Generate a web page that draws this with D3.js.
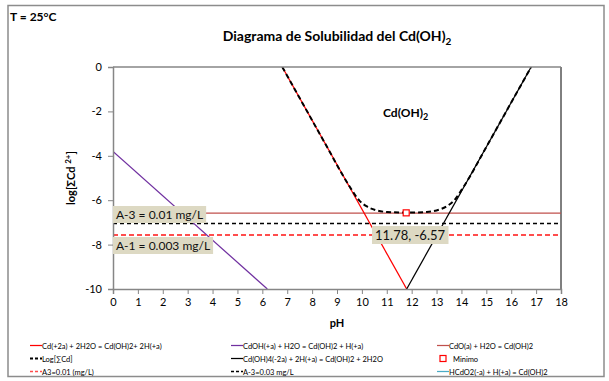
<!DOCTYPE html>
<html><head><meta charset="utf-8">
<script src="https://cdn.jsdelivr.net/npm/d3@7"></script>
<style>body{margin:0;background:#fff}svg{display:block;font-family:Lato,"Open Sans",sans-serif}</style>
</head><body><svg id="c" width="609" height="381"></svg>
<script>
// ---- data ----
const xTicks = [0,1,2,3,4,5,6,7,8,9,10,11,12,13,14,15,16,17,18];
const yTicks = [0,-2,-4,-6,-8,-10];
const cd2Line   = [[6.8,0],[11.8,-10]];          // Cd(+2a) + 2H2O = Cd(OH)2 + 2H(+a)
const cdohLine  = [[0,-3.8],[6.2,-10]];          // CdOH(+a) + H2O = Cd(OH)2 + H(+a)
const cdoLine   = [[0,-6.58],[18,-6.58]];        // CdO(a) + H2O = Cd(OH)2
const cdoh4Line = [[11.8,-10],[16.8,0]];         // Cd(OH)4(-2a) + 2H(+a) = Cd(OH)2 + 2H2O
const hcdo2Line = [];                            // HCdO2(-a) + H(+a) = Cd(OH)2 (off scale)
const totalCd   = [[6.8,0],[7.5,-1.4],[8.5,-3.4],[9.5,-5.37],[9.9,-6.02],[10.2,-6.28],[10.6,-6.46],[11.0,-6.53],[11.78,-6.56],[12.6,-6.53],[13.0,-6.46],[13.4,-6.28],[13.7,-6.02],[14.1,-5.37],[15.1,-3.4],[16.1,-1.4],[16.8,0]];
const a3Line    = [[0,-7.57],[18,-7.57]];        // A3=0.01 (mg/L)
const am3Line   = [[0,-7.05],[18,-7.05]];        // A-3=0.03 mg/L
const minimo    = [[11.78,-6.57]];
const labelA3 = "A-3 = 0.01 mg/L", labelA1 = "A-1 = 0.003 mg/L";

const svg = d3.select("#c");
const L=113, R=561, T=67, B=289;
const x = d3.scaleLinear().domain([0,18]).range([L,R]);
const y = d3.scaleLinear().domain([-10,0]).range([B,T]);

// outer frame
svg.append("rect").attr("x",8).attr("y",5.5).attr("width",596).attr("height",371).attr("fill","#fff").attr("stroke","#8c8c8c").attr("stroke-width",1.5);

svg.append("text").attr("x",10).attr("y",21).attr("font-size",12).attr("font-weight","bold").text("T = 25°C");
const tt = svg.append("text").attr("x",(L+R)/2).attr("y",41).attr("text-anchor","middle").attr("font-size",14).attr("font-weight","bold");
tt.append("tspan").text("Diagrama de Solubilidad del Cd(OH)");
tt.append("tspan").attr("font-size",10).attr("dy",4).text("2");

// plot border
svg.append("line").attr("x1",R).attr("x2",R).attr("y1",T).attr("y2",B).attr("stroke","#000").attr("stroke-width",1);

const clip = svg.append("clipPath").attr("id","pc").append("rect").attr("x",L).attr("y",T).attr("width",R-L).attr("height",B-T);
const g = svg.append("g").attr("clip-path","url(#pc)");
const line = d3.line().x(d=>x(d[0])).y(d=>y(d[1]));

g.append("path").attr("d",line(am3Line)).attr("fill","none").attr("stroke","#000").attr("stroke-width",1.5).attr("stroke-dasharray","4,3");
g.append("path").attr("d",line(a3Line)).attr("fill","none").attr("stroke","#ff4d4d").attr("stroke-width",2).attr("stroke-dasharray","5,3");
g.append("path").attr("d",line(cdoLine)).attr("fill","none").attr("stroke","#c0504d").attr("stroke-width",1.25);
g.append("path").attr("d",line(cdohLine)).attr("fill","none").attr("stroke","#7030a0").attr("stroke-width",1.25);
g.append("path").attr("d",line(cd2Line)).attr("fill","none").attr("stroke","#ff0000").attr("stroke-width",1.25);
g.append("path").attr("d",line(cdoh4Line)).attr("fill","none").attr("stroke","#000").attr("stroke-width",1.25);
if(hcdo2Line.length) g.append("path").attr("d",line(hcdo2Line)).attr("fill","none").attr("stroke","#4bacc6");
g.append("path").attr("d",line.curve(d3.curveMonotoneX)(totalCd)).attr("fill","none").attr("stroke","#000").attr("stroke-width",2).attr("stroke-dasharray","5,3");
line.curve(d3.curveLinear);

g.selectAll("rect.m").data(minimo).join("rect").attr("class","m")
 .attr("x",d=>x(d[0])-3).attr("y",d=>y(d[1])-3).attr("width",6).attr("height",6).attr("fill","#fff").attr("stroke","#ff0000").attr("stroke-width",1.2);

// axes
const gx = svg.append("g").attr("transform",`translate(0,${B})`).call(d3.axisBottom(x).tickValues(xTicks).tickFormat(d3.format("d")).tickSize(5).tickPadding(4));
const gy = svg.append("g").attr("transform",`translate(${L},0)`).call(d3.axisLeft(y).tickValues(yTicks).tickFormat(d=>d===0?"0":"-"+Math.abs(d)).tickSize(5).tickPadding(6));
[gx,gy].forEach(a=>{a.select(".domain").attr("stroke","#868686").attr("stroke-width",1.5);a.selectAll(".tick line").attr("stroke","#868686");a.selectAll("text").attr("font-size",11).attr("font-family","Lato").attr("fill","#000");});
svg.append("line").attr("x1",L).attr("x2",R).attr("y1",T).attr("y2",T).attr("stroke","#868686").attr("stroke-width",1.5);

svg.append("text").attr("x",(L+R)/2).attr("y",327).attr("text-anchor","middle").attr("font-size",11).attr("font-weight","bold").text("pH");
const yt = svg.append("text").attr("transform",`translate(75,${(T+B)/2}) rotate(-90)`).attr("text-anchor","middle").attr("font-size",11).attr("font-weight","bold");
yt.append("tspan").text("log[ΣCd ");
yt.append("tspan").attr("font-size",8).attr("dy",-4).text("2+");
yt.append("tspan").attr("dy",4).text("]");

// Cd(OH)2 label
const cl = svg.append("text").attr("x",383).attr("y",117).attr("font-size",12).attr("font-weight","bold");
cl.append("tspan").text("Cd(OH)");
cl.append("tspan").attr("font-size",9).attr("dy",3).text("2");

// data labels with boxes
function box(px,py,txt,fs){
  const gg=svg.append("g");
  const r=gg.append("rect").attr("fill","#ddd9c3");
  const t=gg.append("text").attr("x",px+3).attr("y",py).attr("font-size",fs).attr("fill","#111").text(txt);
  const bb=t.node().getBBox();
  r.attr("x",px).attr("y",bb.y-1).attr("width",bb.width+6).attr("height",bb.height+2);
}
box(113,219,labelA3,12);
box(113,250,labelA1,12);
box(372,240,minimo[0][0].toFixed(2)+", "+minimo[0][1].toFixed(2),13);

// legend
const leg = [
 {t:"Cd(+2a) + 2H2O = Cd(OH)2+ 2H(+a)",c:"#ff0000",d:null,col:0,row:0},
 {t:"CdOH(+a) + H2O = Cd(OH)2 + H(+a)",c:"#7030a0",d:null,col:1,row:0},
 {t:"CdO(a) + H2O = Cd(OH)2",c:"#c0504d",d:null,col:2,row:0},
 {t:"Log[∑Cd]",c:"#000",d:"3,2",col:0,row:1,w:2},
 {t:"Cd(OH)4(-2a) + 2H(+a) = Cd(OH)2 + 2H2O",c:"#000",d:null,col:1,row:1},
 {t:"Minimo",c:"#ff0000",m:true,col:2,row:1},
 {t:"A3=0.01 (mg/L)",c:"#ff4d4d",d:"3,2",col:0,row:2,w:1.5},
 {t:"A-3=0.03 mg/L",c:"#000",d:"3,2",col:1,row:2,w:1.5},
 {t:"HCdO2(-a) + H(+a) = Cd(OH)2",c:"#4bacc6",d:null,col:2,row:2}
];
const colX=[30,231,437], rowY=[346,359,372];
leg.forEach(e=>{
  const lx=colX[e.col], ly=rowY[e.row];
  if(e.m){svg.append("rect").attr("x",lx+3).attr("y",ly-3.5).attr("width",6).attr("height",6).attr("fill","#fff").attr("stroke",e.c).attr("stroke-width",1.2);}
  else svg.append("line").attr("x1",lx).attr("x2",lx+12).attr("y1",ly-0.5).attr("y2",ly-0.5).attr("stroke",e.c).attr("stroke-width",e.w||1.25).attr("stroke-dasharray",e.d);
  svg.append("text").attr("x",lx+(e.m?16:12)).attr("y",ly+2.5).attr("font-size",7.5).attr("fill","#000").text(e.t);
});
</script></body></html>
